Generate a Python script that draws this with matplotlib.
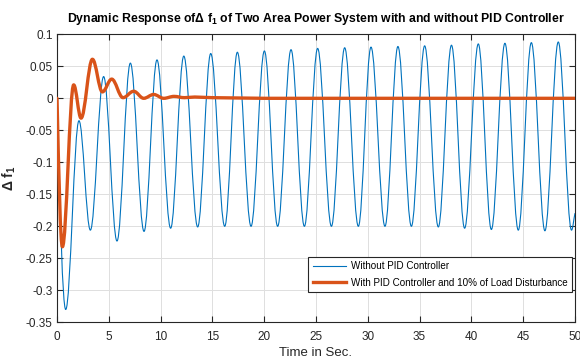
import matplotlib
matplotlib.use("Agg")
import matplotlib.pyplot as plt
from matplotlib.path import Path
from matplotlib.patches import PathPatch
from matplotlib.lines import Line2D

plt.rcParams['font.family'] = ['Liberation Sans', 'DejaVu Sans']
plt.rcParams['mathtext.fontset'] = 'custom'
plt.rcParams['mathtext.rm'] = 'Liberation Sans'
plt.rcParams['mathtext.bf'] = 'Liberation Sans:bold'

# ---- data (extrema of each response) ----
t_without = [0, 0.84, 2.12, 3.22, 4.5, 5.79, 7.08, 8.4, 9.65, 10.97, 12.24, 13.58,
             14.84, 16.19, 17.41, 18.73, 20.02, 21.3, 22.59, 23.88, 25.16, 26.49,
             27.77, 29.09, 30.31, 31.66, 32.91, 34.21, 35.49, 36.81, 38.08, 39.35,
             40.67, 41.93, 43.24, 44.53, 45.79, 47.1, 48.39, 49.67, 50]
f_without = [0, -0.330, -0.035, -0.206, 0.034, -0.223, 0.055, -0.208, 0.060, -0.203,
             0.066, -0.201, 0.070, -0.200, 0.072, -0.200, 0.074, -0.200, 0.076, -0.200,
             0.078, -0.200, 0.079, -0.200, 0.080, -0.200, 0.081, -0.200, 0.082, -0.201,
             0.083, -0.203, 0.085, -0.205, 0.086, -0.206, 0.087, -0.207, 0.088, -0.206,
             -0.180]

t_pid = [0, 0.52, 1.61, 2.32, 3.42, 4.38, 5.28, 6.37, 7.4, 8.37, 9.33, 10.3, 11.3,
         12.3, 13.3, 15, 20, 50]
f_pid = [0, -0.232, 0.021, -0.031, 0.061, 0.010, 0.030, 0.001, 0.011, 0.000, 0.006,
         0.000, 0.003, 0.001, 0.002, 0.001, 0.0, 0.0]

x_ticks = [0, 5, 10, 15, 20, 25, 30, 35, 40, 45, 50]
y_ticks = [-0.35, -0.3, -0.25, -0.2, -0.15, -0.1, -0.05, 0, 0.05, 0.1]
y_ticklabels = ['-0.35', '-0.3', '-0.25', '-0.2', '-0.15', '-0.1', '-0.05', '0', '0.05', '0.1']

labels = ['Without PID Controller', 'With PID Controller and 10% of Load Disturbance']
colors = ['#0072BD', '#D95319']
widths = [0.8, 2.4]


def smooth_path(ts, vs):
    """Smooth curve through extrema (horizontal tangents) via cubic Bezier segments."""
    a = 0.3634
    verts = [(ts[0], vs[0])]
    codes = [Path.MOVETO]
    n = len(ts)
    for i in range(n - 1):
        t0, v0, t1, v1 = ts[i], vs[i], ts[i + 1], vs[i + 1]
        dt = t1 - t0
        if i == 0:
            p1 = (t0 + dt / 3, v0 + (v1 - v0) * 0.52)
        else:
            p1 = (t0 + a * dt, v0)
        if i == n - 2:
            p2 = (t1 - dt / 3, v1 - (v1 - v0) * 0.3)
        else:
            p2 = (t1 - a * dt, v1)
        verts += [p1, p2, (t1, v1)]
        codes += [Path.CURVE4] * 3
    return Path(verts, codes)


fig = plt.figure(figsize=(5.8, 3.6), dpi=100)
ax = fig.add_axes([0.0983, 0.1047, 0.893, 0.800])

for ts, vs, c, w in [(t_without, f_without, colors[0], widths[0]),
                     (t_pid, f_pid, colors[1], widths[1])]:
    patch = PathPatch(smooth_path(ts, vs), facecolor='none', edgecolor=c,
                      linewidth=w, capstyle='round', joinstyle='round', zorder=3)
    ax.add_patch(patch)

ax.set_xlim(0, 50)
ax.set_ylim(-0.35, 0.1)
ax.set_xticks(x_ticks)
ax.set_yticks(y_ticks)
ax.set_yticklabels(y_ticklabels)
ax.grid(True, color='#DFDFDF', linewidth=0.7)
ax.set_axisbelow(True)
ax.tick_params(direction='in', top=True, right=True, labelsize=8.5,
               colors='#262626', length=4, width=0.8, pad=3)
ax.tick_params(axis='x', pad=6)
for s in ax.spines.values():
    s.set_color('#262626')
    s.set_linewidth(0.8)

ax.set_title('Dynamic Response ofΔ f$_{\\mathbf{1}}$ of Two Area Power System with and without PID Controller',
             fontsize=8.8, fontweight='bold', pad=9)
ax.set_xlabel('Time in Sec.', fontsize=9.5, color='#262626', labelpad=3)
ax.set_ylabel('Δ f$_{\\mathbf{1}}$', fontsize=10, fontweight='bold', color='#262626', labelpad=6)

handles = [Line2D([], [], color=colors[0], linewidth=widths[0]),
           Line2D([], [], color=colors[1], linewidth=widths[1])]
leg = ax.legend(handles, labels, loc='lower right', bbox_to_anchor=(0.995, 0.105),
                fontsize=7.1, frameon=True, fancybox=False, framealpha=1,
                edgecolor='#262626', handlelength=3.4, borderpad=0.45,
                labelspacing=0.65, handletextpad=0.5, borderaxespad=0)
leg.get_frame().set_linewidth(0.8)

fig.savefig('out.png', dpi=100)
